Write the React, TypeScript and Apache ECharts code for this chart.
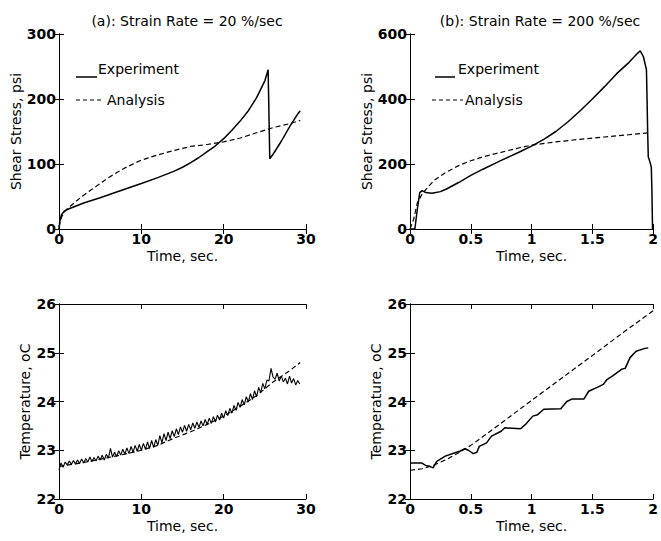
import React, { useEffect, useRef } from "react";
import * as echarts from "echarts";

const titleA = "(a): Strain Rate = 20 %/sec";
const titleB = "(b): Strain Rate = 200 %/sec";
const stressName = "Shear Stress, psi";
const tempName = "Temperature, oC";
const timeName = "Time, sec.";
const legendNames = ["Experiment", "Analysis"];

// Panel (a): shear stress, 20 %/sec
const stressExpA: number[][] = [
  [0, 0], [0.1, 12], [0.3, 22], [0.6, 27], [1, 30], [2, 35], [3, 40], [5, 48], [7, 57],
  [10, 70], [12, 79], [14, 89], [15, 95], [16, 102], [17, 110], [18, 119], [19, 128],
  [20, 139], [21, 152], [22, 166], [23, 182], [24, 202], [25, 228], [25.4, 245],
  [25.6, 108], [26, 115], [27, 135], [28, 157], [29, 177], [29.3, 182],
];
const stressAnaA: number[][] = [
  [0, 3], [0.3, 18], [0.7, 27], [1, 31], [2, 42], [3, 52], [4, 61], [5, 70], [6, 79],
  [8, 94], [10, 106], [12, 114], [14, 121], [16, 127], [18, 130], [20, 134], [22, 140],
  [24, 148], [26, 156], [28, 162], [29.3, 167],
];

// Panel (b): shear stress, 200 %/sec
const stressExpB: number[][] = [
  [0, 0], [0.04, 0], [0.06, 60], [0.08, 112], [0.1, 118], [0.13, 112], [0.18, 110],
  [0.25, 115], [0.3, 123], [0.4, 143], [0.5, 165], [0.6, 184], [0.75, 211], [0.9, 237],
  [1.0, 255], [1.1, 276], [1.2, 300], [1.3, 330], [1.4, 364], [1.5, 400], [1.6, 438],
  [1.7, 478], [1.8, 512], [1.87, 540], [1.894, 548], [1.92, 530], [1.945, 490],
  [1.95, 400], [1.955, 300], [1.96, 222], [1.975, 205], [1.985, 190], [1.99, 120],
  [1.995, 0],
];
const stressAnaB: number[][] = [
  [0, 0], [0.03, 30], [0.06, 80], [0.1, 108], [0.15, 130], [0.2, 150], [0.3, 175],
  [0.4, 195], [0.5, 210], [0.6, 222], [0.75, 236], [0.9, 250], [1.0, 258], [1.2, 268],
  [1.4, 276], [1.6, 283], [1.8, 290], [1.96, 296],
];

// Panel (c): temperature, 20 %/sec (noisy thermocouple record)
const tempExpC: number[][] = [
  [0, 22.6], [0.25, 22.74], [0.5, 22.65], [0.75, 22.76], [1, 22.7], [1.25, 22.78],
  [1.5, 22.71], [1.75, 22.79], [2, 22.72], [2.25, 22.8], [2.5, 22.73], [2.75, 22.82],
  [3, 22.74], [3.25, 22.83], [3.5, 22.76], [3.75, 22.86], [4, 22.77], [4.25, 22.85],
  [4.5, 22.78], [4.75, 22.88], [5, 22.8], [5.25, 22.9], [5.5, 22.8], [5.75, 22.92],
  [6, 22.84], [6.25, 23.04], [6.5, 22.86], [6.75, 22.96], [7, 22.87], [7.25, 22.99],
  [7.5, 22.9], [7.75, 23.02], [8, 22.92], [8.25, 23.05], [8.5, 22.93], [8.75, 23.08],
  [9, 22.96], [9.25, 23.1], [9.5, 22.98], [9.75, 23.12], [10, 23.0], [10.25, 23.14],
  [10.5, 23.02], [10.75, 23.17], [11, 23.04], [11.25, 23.2], [11.5, 23.06], [11.75, 23.22],
  [12, 23.1], [12.25, 23.3], [12.5, 23.15], [12.75, 23.34], [13, 23.2], [13.25, 23.37],
  [13.5, 23.24], [13.75, 23.4], [14, 23.28], [14.25, 23.44], [14.5, 23.32], [14.75, 23.48],
  [15, 23.37], [15.25, 23.51], [15.5, 23.39], [15.75, 23.53], [16, 23.42], [16.25, 23.56],
  [16.5, 23.45], [16.75, 23.58], [17, 23.47], [17.25, 23.6], [17.5, 23.5], [17.75, 23.63],
  [18, 23.53], [18.25, 23.66], [18.5, 23.55], [18.75, 23.69], [19, 23.58], [19.25, 23.72],
  [19.5, 23.62], [19.75, 23.76], [20, 23.66], [20.25, 23.81], [20.5, 23.71], [20.75, 23.86],
  [21, 23.76], [21.25, 23.92], [21.5, 23.82], [21.75, 23.98], [22, 23.88], [22.25, 24.04],
  [22.5, 23.93], [22.75, 24.1], [23, 23.99], [23.25, 24.16], [23.5, 24.04], [23.75, 24.22],
  [24, 24.1], [24.25, 24.29], [24.5, 24.18], [24.75, 24.37], [25, 24.26], [25.25, 24.44],
  [25.5, 24.42], [25.75, 24.68], [26, 24.5], [26.25, 24.46], [26.5, 24.58], [26.75, 24.42],
  [27, 24.52], [27.25, 24.4], [27.5, 24.48], [27.75, 24.36], [28, 24.52], [28.25, 24.38],
  [28.5, 24.47], [28.75, 24.34], [29, 24.43], [29.25, 24.36],
];
const tempAnaC: number[][] = [
  [0, 22.67], [2, 22.72], [4, 22.78], [6, 22.85], [8, 22.92], [10, 23.0], [12, 23.1],
  [14, 23.25], [16, 23.38], [18, 23.53], [20, 23.7], [22, 23.9], [24, 24.12], [26, 24.4],
  [28, 24.63], [29.3, 24.8],
];

// Panel (d): temperature, 200 %/sec
const tempExpD: number[][] = [
  [0, 22.74], [0.095, 22.74], [0.128, 22.69], [0.16, 22.67], [0.19, 22.64], [0.22, 22.77],
  [0.29, 22.88], [0.37, 22.95], [0.41, 22.98], [0.45, 23.03], [0.48, 23.0], [0.52, 22.93],
  [0.55, 22.96], [0.57, 23.08], [0.63, 23.15], [0.67, 23.29], [0.75, 23.39], [0.78, 23.46],
  [0.91, 23.44], [0.95, 23.53], [1.01, 23.7], [1.05, 23.73], [1.1, 23.84], [1.24, 23.85],
  [1.29, 24.0], [1.33, 24.05], [1.43, 24.05], [1.47, 24.21], [1.54, 24.29], [1.59, 24.35],
  [1.62, 24.45], [1.67, 24.53], [1.74, 24.66], [1.77, 24.68], [1.81, 24.9], [1.86, 25.03],
  [1.92, 25.08], [1.96, 25.1],
];
const tempAnaD: number[][] = [
  [0, 22.59], [0.1, 22.62], [0.2, 22.7], [0.3, 22.81], [0.4, 22.95], [0.5, 23.1],
  [0.6, 23.28], [0.8, 23.65], [1.0, 24.02], [1.2, 24.39], [1.4, 24.76], [1.6, 25.13],
  [1.8, 25.5], [2.0, 25.86],
];

const FONT = "DejaVu Sans";

export default function App() {
  const ref = useRef<HTMLDivElement>(null);
  useEffect(() => {
    if (!ref.current) return;
    const chart = echarts.init(ref.current, undefined, { renderer: "svg" });

    const grids = [
      { left: 59, top: 34, width: 247, height: 195 },
      { left: 410, top: 34, width: 246, height: 195 },
      { left: 59, top: 304, width: 247, height: 195 },
      { left: 410, top: 304, width: 245, height: 195 },
    ];
    const xr = [
      { min: 0, max: 30, interval: 10 },
      { min: 0, max: 2, interval: 0.5 },
      { min: 0, max: 30, interval: 10 },
      { min: 0, max: 2, interval: 0.5 },
    ];
    const yr = [
      { min: 0, max: 300, interval: 100, name: stressName, gap: 34 },
      { min: 0, max: 600, interval: 200, name: stressName, gap: 33 },
      { min: 22, max: 26, interval: 1, name: tempName, gap: 27 },
      { min: 22, max: 26, interval: 1, name: tempName, gap: 27 },
    ];
    const line = { show: true, lineStyle: { color: "#000", width: 1 } };
    const tick = { show: true, inside: true, length: 5, lineStyle: { color: "#000", width: 1 } };
    const label = { fontFamily: FONT, fontSize: 14, fontWeight: "bold" as const, color: "#000" };

    const xAxis: any[] = [];
    const yAxis: any[] = [];
    for (let i = 0; i < 4; i++) {
      xAxis.push({
        type: "value", gridIndex: i, ...xr[i], position: "bottom",
        axisLine: line, axisTick: tick, splitLine: { show: false },
        axisLabel: { ...label, margin: 3 },
        name: timeName, nameLocation: "middle", nameGap: 20,
        nameTextStyle: { fontFamily: FONT, fontSize: 14, color: "#000" },
      });
      yAxis.push({
        type: "value", gridIndex: i, min: yr[i].min, max: yr[i].max, interval: yr[i].interval,
        position: "left",
        axisLine: line, axisTick: tick, splitLine: { show: false },
        axisLabel: { ...label, margin: 3 },
        name: yr[i].name, nameLocation: "middle", nameGap: yr[i].gap, nameRotate: 90,
        nameTextStyle: { fontFamily: FONT, fontSize: 14, color: "#000" },
      });
    }
    for (let i = 0; i < 4; i++) {
      xAxis.push({
        type: "value", gridIndex: i, ...xr[i], position: "top",
        axisLine: line, axisTick: tick, splitLine: { show: false }, axisLabel: { show: false },
      });
      yAxis.push({
        type: "value", gridIndex: i, min: yr[i].min, max: yr[i].max, interval: yr[i].interval,
        position: "right",
        axisLine: line, axisTick: tick, splitLine: { show: false }, axisLabel: { show: false },
      });
    }

    const solid = (data: number[][], i: number, w = 1.5) => ({
      type: "line", data, xAxisIndex: i, yAxisIndex: i, showSymbol: false, symbol: "none",
      lineStyle: { color: "#000", width: w }, silent: true, clip: true,
    });
    const dashed = (data: number[][], i: number) => ({
      type: "line", data, xAxisIndex: i, yAxisIndex: i, showSymbol: false, symbol: "none",
      lineStyle: { color: "#000", width: 1.2, type: [5, 3] }, silent: true, clip: true,
    });

    const legendGraphic = (solidX: number[], dashX: number[], expX: number, anaX: number) => [
      { type: "line", shape: { x1: solidX[0], y1: 77, x2: solidX[1], y2: 77 }, style: { stroke: "#000", lineWidth: 1.5 } },
      { type: "text", x: expX, y: 69, style: { text: legendNames[0], fontFamily: FONT, fontSize: 14, fill: "#000", verticalAlign: "middle" } },
      { type: "line", shape: { x1: dashX[0], y1: 100, x2: dashX[1], y2: 100 }, style: { stroke: "#000", lineWidth: 1.2, lineDash: [4, 3] } },
      { type: "text", x: anaX, y: 100, style: { text: legendNames[1], fontFamily: FONT, fontSize: 14, fill: "#000", verticalAlign: "middle" } },
    ];

    chart.setOption({
      animation: false,
      backgroundColor: "#fff",
      title: [
        { text: titleA, left: 182, top: 9, textAlign: "center", textStyle: { fontFamily: FONT, fontSize: 14, fontWeight: "normal", color: "#000" } },
        { text: titleB, left: 535, top: 9, textAlign: "center", textStyle: { fontFamily: FONT, fontSize: 14, fontWeight: "normal", color: "#000" } },
      ],
      grid: grids,
      xAxis,
      yAxis,
      series: [
        solid(stressExpA, 0), dashed(stressAnaA, 0),
        solid(stressExpB, 1), dashed(stressAnaB, 1),
        dashed(tempAnaC, 2), solid(tempExpC, 2, 1.1),
        solid(tempExpD, 3), dashed(tempAnaD, 3),
      ],
      graphic: [
        ...legendGraphic([76, 97], [76, 104], 98, 107),
        ...legendGraphic([435, 455], [432, 463], 458, 465),
      ],
    });
    return () => chart.dispose();
  }, []);
  return (
    <div
      ref={ref}
      style={{ position: "absolute", left: 0, top: 0, width: 661, height: 541, background: "#fff" }}
    />
  );
}
